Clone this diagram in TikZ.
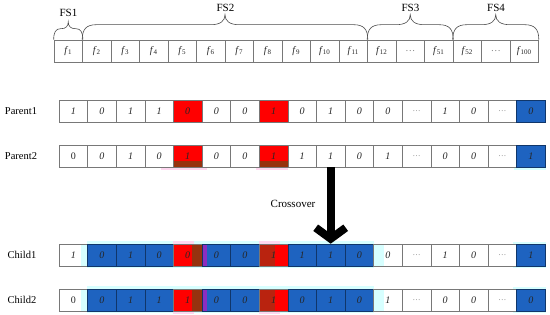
\documentclass[tikz,border=0pt]{standalone}
\usepackage{fontspec}
\setmainfont{Liberation Serif}
\usetikzlibrary{arrows.meta,calc,backgrounds}
\definecolor{cred}{RGB}{255,0,0}
\definecolor{cblue}{RGB}{30,99,192}
\definecolor{cbrown}{RGB}{150,50,15}
\definecolor{cdred}{RGB}{185,35,15}
\definecolor{cpink}{RGB}{255,215,240}
\definecolor{ccyan}{RGB}{215,255,255}
\definecolor{cpurple}{RGB}{140,45,190}
\definecolor{cborder}{RGB}{120,120,120}
\newcommand\flab[1]{\textit{f}\textsubscript{#1}}
% #1 start, #2 end, #3 body height, #4 tip height, #5 end radius
\newcommand\drawfsbrace[5]{%
  \draw[bracestyle] let \p1=(#1), \p2=(#2), \p3=($(#1)!0.5!(#2)$) in
   (\p1) .. controls (\x1,{\y1+0.7*#3}) and ({\x1+0.3*#5},{\y1+#3}) .. ({\x1+#5},{\y1+#3})
   -- ({\x3-#5},{\y1+#3}) .. controls ({\x3-0.35*#5},{\y1+#3}) and (\x3,{\y1+#3+0.35*(#4-#3)}) .. (\x3,{\y1+#4})
   .. controls (\x3,{\y1+#3+0.35*(#4-#3)}) and ({\x3+0.35*#5},{\y1+#3}) .. ({\x3+#5},{\y1+#3})
   -- ({\x2-#5},{\y1+#3}) .. controls ({\x2-0.3*#5},{\y1+#3}) and (\x2,{\y1+0.7*#3}) .. (\p2);}
\begin{document}
\begin{tikzpicture}[x=1pt,y=-1pt,
 cellbox/.style={draw=cborder, line width=0.6pt, minimum width=28.6pt, minimum height=22pt,
   inner sep=0pt, font=\itshape\fontsize{10}{10}\selectfont, text=black!85},
 topbox/.style={cellbox, minimum width=28.5pt, font=\fontsize{10}{10}\selectfont},
 wc/.style={fill=white},
 rc/.style={fill=cred},
 bc/.style={fill=cblue, draw=cblue!55!black},
 uw/.style={fill=white, font=\upshape\fontsize{10}{10}\selectfont},
 dc/.style={fill=white, text=gray, font=\fontsize{8}{8}\selectfont},
 prc/.style={rc, path picture={\fill[cbrown] ([yshift=6pt]path picture bounding box.south west) rectangle (path picture bounding box.south east);}},
 crf/.style={rc, path picture={\fill[cbrown] ([xshift=-10pt]path picture bounding box.north east) rectangle (path picture bounding box.south east);}},
 crl/.style={rc, path picture={\fill[cdred] (path picture bounding box.north west) rectangle ([xshift=16pt]path picture bounding box.south west);}},
 bcp/.style={bc, path picture={\fill[cpurple] (path picture bounding box.north west) rectangle ([xshift=5pt]path picture bounding box.south west);}},
 wcr/.style={wc, path picture={\fill[ccyan] ([xshift=-7pt]path picture bounding box.north east) rectangle (path picture bounding box.south east);}},
 uwr/.style={uw, wcr},
 wcl/.style={wc, path picture={\fill[ccyan] (path picture bounding box.north west) rectangle ([xshift=10pt]path picture bounding box.south west);}},
 rowlabel/.style={font=\fontsize{10.5}{10.5}\selectfont, inner sep=0pt},
 fslabel/.style={font=\fontsize{11}{11}\selectfont, inner sep=0pt},
 bracestyle/.style={draw=black!70, line width=0.6pt},
 bigarrow/.style={line width=8pt, -{Straight Barb[length=11pt,width=30pt]}},
]
\useasboundingbox (0,0) rectangle (550,315);

% feature row
\foreach \t [count=\i] in {\flab{1},\flab{2},\flab{3},\flab{4},\flab{5},\flab{6},\flab{7},\flab{8},\flab{9},\flab{10},\flab{11},\flab{12},\textcolor{gray}{\dots},\flab{51},\flab{52},\textcolor{gray}{\dots},\flab{100}}
  \node[topbox] (t\i) at ({54+(\i-0.5)*28.5},51) {\t};

\drawfsbrace{t1.north west}{t1.north east}{11pt}{18pt}{7pt}
\drawfsbrace{t2.north west}{t11.north east}{15pt}{25pt}{14pt}
\drawfsbrace{t12.north west}{t14.north east}{15pt}{25pt}{14pt}
\drawfsbrace{t15.north west}{t17.north east}{15pt}{25pt}{14pt}
\node[fslabel] (fs1) at (68.5,13) {FS1};
\node[fslabel] (fs2) at (225.5,8) {FS2};
\node[fslabel] (fs3) at (410.5,8) {FS3};
\node[fslabel] (fs4) at (496,8) {FS4};

% rows
\foreach \v/\s [count=\i] in {1/wc,0/wc,1/wc,1/wc,0/rc,0/wc,0/wc,1/rc,0/wc,1/wc,0/wc,0/wc,\dots/dc,1/wc,0/wc,\dots/dc,0/bc}
  \node[cellbox,\s] (p1-\i) at ({59+(\i-0.5)*28.6},111) {\v};
\foreach \v/\s [count=\i] in {0/uw,0/wc,1/wc,0/wc,1/prc,0/wc,0/wc,1/prc,1/wc,1/wc,0/wc,1/wc,\dots/dc,0/wc,0/wc,\dots/dc,1/bc}
  \node[cellbox,\s] (p2-\i) at ({59+(\i-0.5)*28.6},156) {\v};
\foreach \v/\s [count=\i] in {1/wcr,0/bc,1/bc,0/bc,0/crf,0/bcp,0/bc,1/crl,1/bc,1/bc,0/bc,0/wcl,\dots/dc,1/wc,0/wc,\dots/dc,1/bc}
  \node[cellbox,\s] (c1-\i) at ({59+(\i-0.5)*28.6},255) {\v};
\foreach \v/\s [count=\i] in {0/uwr,0/bc,1/bc,1/bc,1/crf,0/bcp,0/bc,1/crl,0/bc,1/bc,0/bc,1/wcl,\dots/dc,0/wc,0/wc,\dots/dc,0/bc}
  \node[cellbox,\s] (c2-\i) at ({59+(\i-0.5)*28.6},300) {\v};

\node[rowlabel] (lp1) at (21,111) {Parent1};
\node[rowlabel] (lp2) at (21,156) {Parent2};
\node[rowlabel] (lc1) at (22,255) {Child1};
\node[rowlabel] (lc2) at (22,300) {Child2};

% halos
\begin{scope}[on background layer]
  \fill[ccyan] ($(c1-2.north west)+(0,-3)$) rectangle ($(c1-11.south east)+(0,2)$);
  \fill[ccyan] ($(c2-2.north west)+(0,-3)$) rectangle ($(c2-11.south east)+(0,2)$);
  \fill[ccyan] ($(c1-17.north west)+(-3,-2)$) rectangle ($(c1-17.south east)+(0,2)$);
  \fill[ccyan] ($(c2-17.north west)+(-3,-2)$) rectangle ($(c2-17.south east)+(0,2)$);
  \fill[ccyan] ($(p2-17.south west)+(-2,0)$) rectangle ($(p2-17.south east)+(0,3)$);
  \fill[cpink] ($(p2-4.south west)+(16,0)$) rectangle ($(p2-5.south east)+(5,3)$);
  \fill[cpink] ($(p2-8.south west)+(-3,0)$) rectangle ($(p2-8.south east)+(0,3)$);
  \fill[cpink] ($(c1-5.north west)+(0,-3)$) rectangle ($(c1-5.north east)+(-8,0)$);
  \fill[cpink] ($(c1-8.north west)+(0,-3)$) rectangle ($(c1-8.north east)+(-8,0)$);
  \fill[cpink] ($(c2-5.south west)+(0,0)$) rectangle ($(c2-5.south east)+(-8,3)$);
  \fill[cpink] ($(c2-8.south west)+(0,0)$) rectangle ($(c2-8.south east)+(-8,3)$);
\end{scope}

% crossover arrow
\draw[bigarrow] (p2-10.south) -- (c1-10.north);
\node[font=\fontsize{11}{11}\selectfont, inner sep=0pt] (cross) at (293,204) {Crossover};
\end{tikzpicture}
\end{document}
